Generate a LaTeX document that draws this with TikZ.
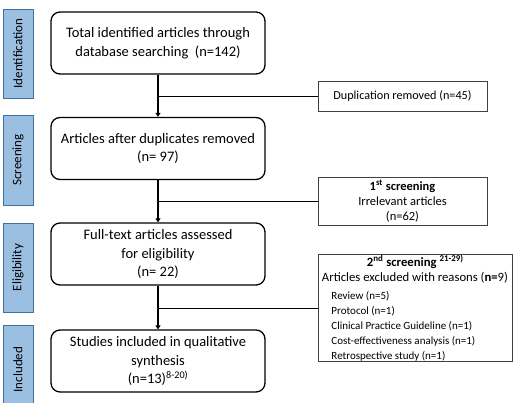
\documentclass[tikz,border=0pt]{standalone}
\usepackage{fontspec}
\setmainfont{Carlito}
\usetikzlibrary{arrows.meta}

\definecolor{phasefill}{HTML}{9BBFE0}
\definecolor{phaseline}{HTML}{41719C}

\newcommand{\listsize}{\fontsize{11}{13.5}\selectfont}
\newcommand{\headsize}{\fontsize{12.7}{14}\selectfont}

\tikzset{
    phase/.style={draw=phaseline,fill=phasefill,line width=0.9pt,rotate=90,
        minimum height=30pt,inner sep=0pt,font=\fontsize{13}{15}\selectfont},
    stagebox/.style={draw,rounded corners=9pt,line width=1.3pt,align=center,
        minimum width=214pt,minimum height=62pt,inner sep=2pt,
        font=\fontsize{14.5}{18.5}\selectfont},
    excludebox/.style={draw=black!75,line width=0.8pt,align=center,inner sep=2pt,
        font=\fontsize{12.2}{15}\selectfont},
    flow/.style={line width=1.5pt,-{Triangle[length=4pt,width=5pt]}},
    branch/.style={line width=0.7pt}
}

\begin{document}
\begin{tikzpicture}[x=1pt,y=-1pt]
        \useasboundingbox (0,0) rectangle (525,402);
        % phases
        \node[phase,minimum width=89pt] (ident) at (18,53.5) {Identification};
        \node[phase,minimum width=90pt] (screen) at (18,160) {Screening};
        \node[phase,minimum width=89pt] (elig) at (18,267.5) {Eligibility};
        \node[phase,minimum width=89pt] (incl) at (18,369.5) {Included};

        % main flow
        \node[stagebox] (total) at (158,43) {Total identified articles through\\database searching~ (n=142)};
        \node[stagebox] (dedup) at (158,148.5) {Articles after duplicates removed\\(n= 97)};
        \node[stagebox] (fulltext) at (158,254) {Full-text articles assessed\\for eligibility\\(n= 22)};
        \node[stagebox] (studies) at (158,361) {Studies included in qualitative\\synthesis\\(n=13)\textsuperscript{8-20)}};

        % exclusions
        \node[excludebox,minimum width=169pt,minimum height=30pt] (dup) at (402.5,96) {Duplication removed (n=45)};
        \node[excludebox,minimum width=169pt,minimum height=48pt,
            font=\fontsize{12.5}{15}\selectfont] (first) at (402.5,201)
            {\textbf{1\textsuperscript{st} screening}\\Irrelevant articles\\(n=62)};
        \node[excludebox,minimum width=194pt,minimum height=104pt,align=left,inner sep=1pt] (second) at (415,308)
            {\headsize\hspace*{45pt}\textbf{2\textsuperscript{nd} screening \textsuperscript{21-29)}}\\
             \headsize Articles excluded with reasons (\textbf{n=}9)\\[3pt]
             \listsize\hspace*{9.5pt}Review (n=5)\\
             \listsize\hspace*{9.5pt}Protocol (n=1)\\
             \listsize\hspace*{9.5pt}Clinical Practice Guideline (n=1)\\
             \listsize\hspace*{9.5pt}Cost-effectiveness analysis (n=1)\\
             \listsize\hspace*{9.5pt}Retrospective study (n=1)};

        \draw[flow] (total) -- (dedup);
        \draw[flow] (dedup) -- (fulltext);
        \draw[flow] (fulltext) -- (studies);
        \draw[branch] (dup.west) -- (dup.west -| total.south);
        \draw[branch] (first.west) -- (first.west -| dedup.south);
        \draw[branch] (second.west) -- (second.west -| fulltext.south);
    \end{tikzpicture}
\end{document}
